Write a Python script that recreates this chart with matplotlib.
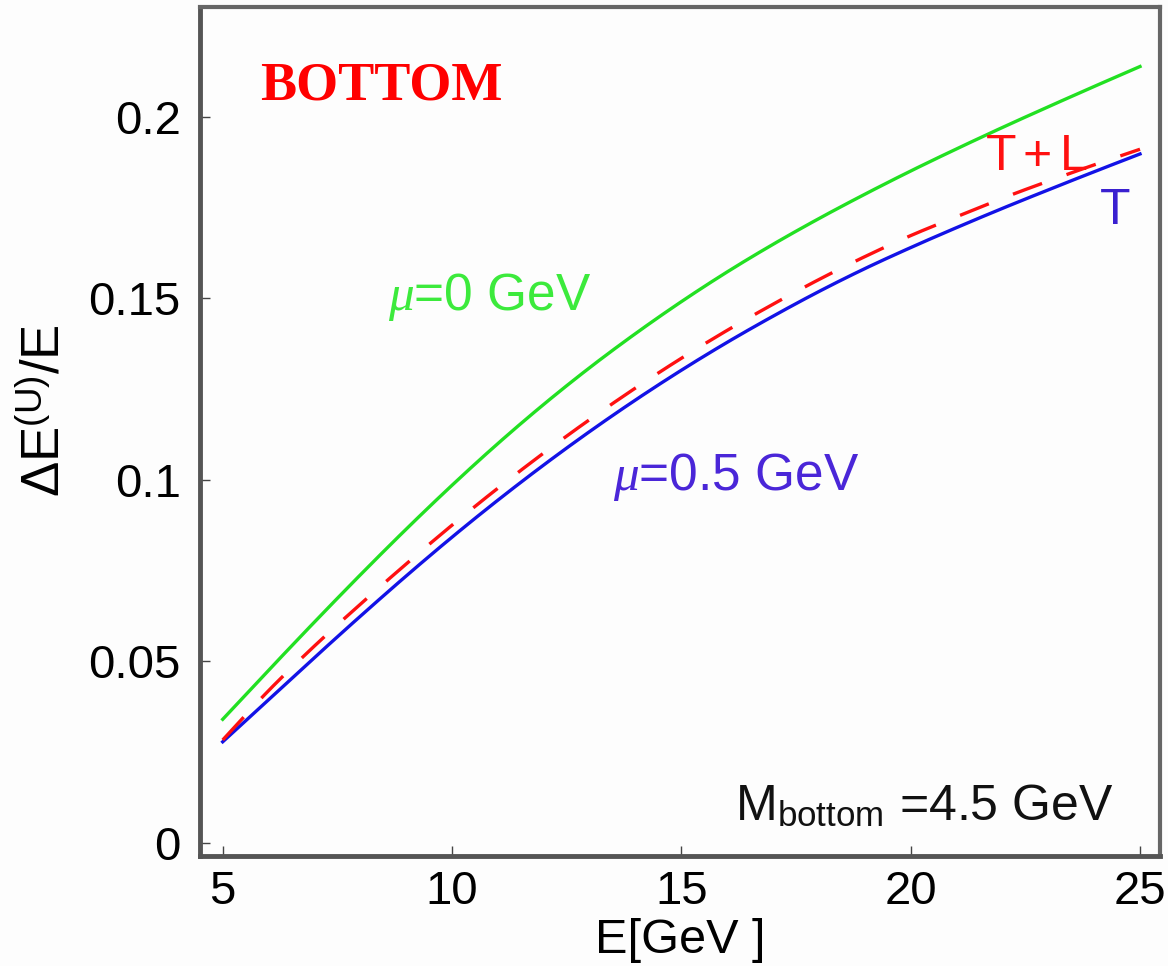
import matplotlib
matplotlib.use("Agg")
import matplotlib.pyplot as plt
import numpy as np

plt.rcParams['font.family'] = ['Liberation Sans', 'DejaVu Sans']
plt.rcParams['mathtext.fontset'] = 'custom'
plt.rcParams['mathtext.rm'] = 'Liberation Sans'
plt.rcParams['mathtext.it'] = 'Liberation Serif:italic'

# Data
E = [5, 6, 7, 8, 9, 10, 11, 12, 13, 14, 15, 16, 17, 18, 19, 20, 21, 22, 23, 24, 25]
mu0 = [0.0340, 0.0475, 0.0608, 0.0738, 0.0864, 0.0985, 0.1100, 0.1208, 0.1309,
       0.1403, 0.1491, 0.1573, 0.1649, 0.1720, 0.1787, 0.1851, 0.1912, 0.1971,
       0.2028, 0.2084, 0.2139]
mu05_T = [0.0278, 0.0394, 0.0510, 0.0624, 0.0735, 0.0842, 0.0944, 0.1041, 0.1133,
          0.1220, 0.1302, 0.1379, 0.1451, 0.1519, 0.1582, 0.1640, 0.1695, 0.1748,
          0.1799, 0.1849, 0.1898]
mu05_TL = [0.0283, 0.0419, 0.0542, 0.0657, 0.0768, 0.0875, 0.0977, 0.1074, 0.1166,
           0.1253, 0.1335, 0.1412, 0.1484, 0.1552, 0.1615, 0.1673, 0.1725, 0.1776,
           0.1823, 0.1868, 0.1911]

xticks = [5, 10, 15, 20, 25]
yticks = [0, 0.05, 0.1, 0.15, 0.2]
yticklabels = ['0', '0.05', '0.1', '0.15', '0.2']


def hermite(x, y, n=20):
    """Smooth curve through the data points (cubic Hermite, finite-difference slopes)."""
    x = np.asarray(x, float)
    y = np.asarray(y, float)
    m = np.gradient(y, x)
    xs, ys = [], []
    for i in range(len(x) - 1):
        h = x[i + 1] - x[i]
        t = np.linspace(0, 1, n, endpoint=False)
        h00 = 2 * t**3 - 3 * t**2 + 1
        h10 = t**3 - 2 * t**2 + t
        h01 = -2 * t**3 + 3 * t**2
        h11 = t**3 - t**2
        xs.append(x[i] + t * h)
        ys.append(h00 * y[i] + h10 * h * m[i] + h01 * y[i + 1] + h11 * h * m[i + 1])
    xs.append([x[-1]])
    ys.append([y[-1]])
    return np.concatenate(xs), np.concatenate(ys)


fig = plt.figure(figsize=(11.68, 9.66), dpi=100)
fig.patch.set_facecolor('#fdfdfd')
ax = fig.add_axes([200/1168, 1 - 856/966, 960/1168, 849/966])
ax.set_facecolor('#fdfdfd')

xs, ys = hermite(E, mu0)
ax.plot(xs, ys, color='#22e022', lw=2.4)
xs, ys = hermite(E, mu05_T)
ax.plot(xs, ys, color='#1212e6', lw=2.4)
xs, ys = hermite(E, mu05_TL)
ax.plot(xs, ys, color='#ff1010', lw=2.4, dashes=(9.3, 7.8))

ax.set_xlim(4.505, 25.436)
ax.set_ylim(-0.00367, 0.2303)
ax.set_xticks(xticks)
ax.set_xticklabels([str(t) for t in xticks])
ax.set_yticks(yticks)
ax.set_yticklabels(yticklabels)
ax.tick_params(direction='in', length=7, width=1, color='#444444',
               labelsize=34, top=False, right=False)
ax.tick_params(axis='y', pad=14)
ax.tick_params(axis='x', pad=10)

for side in ['left', 'bottom']:
    ax.spines[side].set_linewidth(3.5)
    ax.spines[side].set_color('#555555')
for side in ['top', 'right']:
    ax.spines[side].set_linewidth(3.0)
    ax.spines[side].set_color('#666666')

ax.set_xlabel('E[GeV ]', fontsize=35)
ax.xaxis.label.set_va('center')
ax.xaxis.set_label_coords(0.5, -0.099)
ax.set_ylabel(r'$\Delta\mathrm{E}^{(\mathrm{U})}\mathrm{/E}$', fontsize=38)
ax.yaxis.label.set_va('center')
ax.yaxis.set_label_coords(-0.161, 0.525)

ax.text(0.0625, 0.8916, 'BOTTOM', transform=ax.transAxes, fontsize=39,
        fontweight='bold', color='#ff0000', family='Liberation Serif',
        ha='left', va='baseline')
ax.text(8.6, 0.1468, r'$\mu$=0 GeV', color='#3cea3c', fontsize=37,
        ha='left', va='baseline')
ax.text(13.5, 0.0972, r'$\mu$=0.5 GeV', color='#4a26d8', fontsize=37,
        ha='left', va='baseline')
ax.text(21.62, 0.1853, r'$\mathrm{T+L}$', color='#ff1010', fontsize=36,
        ha='left', va='baseline')
ax.text(24.13, 0.1705, 'T', color='#3a20d0', fontsize=36,
        ha='left', va='baseline')
ax.text(16.17, 0.0063, r'M$_{\mathrm{bottom}}$ =4.5 GeV', color='#111111',
        fontsize=36, ha='left', va='baseline')

fig.savefig('out.png', dpi=100, facecolor=fig.get_facecolor())
